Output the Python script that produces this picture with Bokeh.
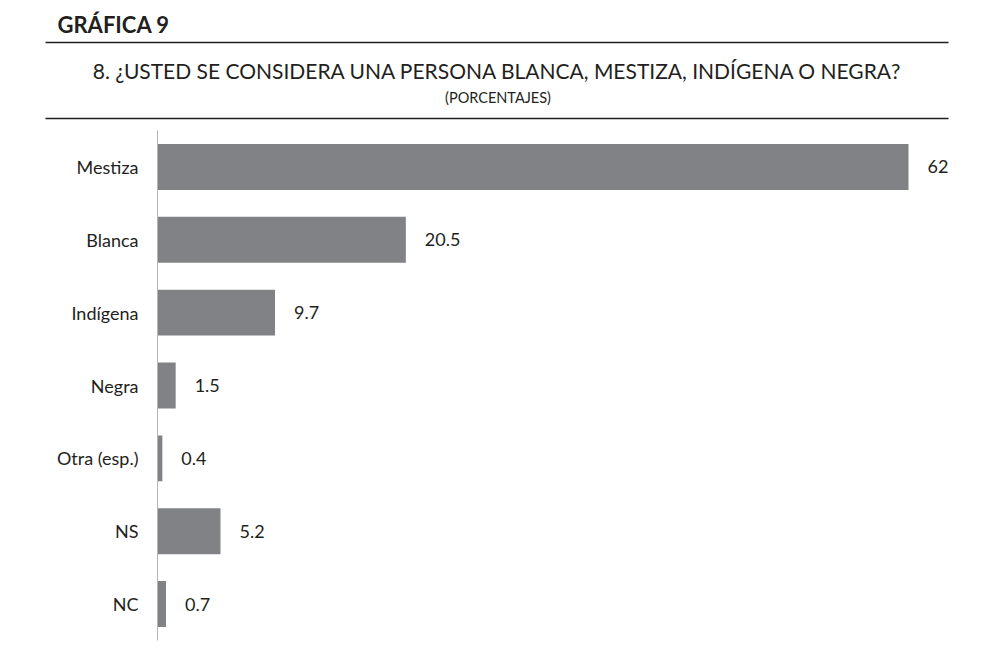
from bokeh.plotting import figure
from bokeh.models import Range1d, FactorRange, ColumnDataSource
from bokeh.layouts import column
from bokeh.core.properties import value
from bokeh.embed import file_html
from bokeh.resources import INLINE

# ---- data ----
categories = ["Mestiza", "Blanca", "Indígena", "Negra", "Otra (esp.)", "NS", "NC"]
percentages = [62, 20.5, 9.7, 1.5, 0.4, 5.2, 0.7]
value_labels = ["62", "20.5", "9.7", "1.5", "0.4", "5.2", "0.7"]

header_title = "GRÁFICA 9"
question = "8. ¿USTED SE CONSIDERA UNA PERSONA BLANCA, MESTIZA, INDÍGENA O NEGRA?"
units = "(PORCENTAJES)"

FONT = "Lato"
TXT = "#231f20"
BAR = "#818285"

W = 986
HH = 130

# ---- header ----
h = figure(width=W, height=HH, x_range=Range1d(0, W), y_range=Range1d(HH, 0),
           x_axis_location=None, y_axis_location=None, min_border=0,
           frame_align=False,
           toolbar_location=None, output_backend="svg")
h.outline_line_color = None
h.grid.visible = False
h.segment(x0=[45, 45], y0=[42, 118], x1=[948, 948], y1=[42, 118],
          line_color=TXT, line_width=1.3)
h.text(x=[57], y=[24], text=[header_title], text_font=value(FONT),
       text_font_size="22px", text_font_style="bold", text_color=TXT,
       text_baseline="middle", text_align="left")
h.text(x=[497.5], y=[70], text=[question], text_font=value(FONT),
       text_font_size="21px", text_color=TXT,
       text_baseline="middle", text_align="center")
h.text(x=[497.5], y=[96.5], text=[units], text_font=value(FONT),
       text_font_size="14.5px", text_color=TXT,
       text_baseline="middle", text_align="center")

# ---- chart ----
src = ColumnDataSource(dict(cat=categories, val=percentages, lab=value_labels))

p = figure(width=W, height=512,
           y_range=FactorRange(factors=list(reversed(categories))),
           x_range=Range1d(0, 65.3),
           x_axis_location=None,
           min_border_left=157, min_border_right=38,
           min_border_top=0, min_border_bottom=2,
           frame_align=False,
           toolbar_location=None, output_backend="svg")
p.outline_line_color = None
p.grid.visible = False

p.hbar(y="cat", left=0, right="val", height=0.63, source=src,
       fill_color=BAR, line_color=None)
p.text(x="val", y="cat", text="lab", source=src, x_offset=19,
       text_font=value(FONT), text_font_size="18px", text_color=TXT,
       text_baseline="middle", text_align="left")

ax = p.yaxis[0]
ax.axis_line_color = "#b5b5b5"
ax.axis_line_width = 1
ax.major_tick_line_color = None
ax.minor_tick_line_color = None
ax.major_label_standoff = 13
ax.major_label_text_font = FONT
ax.major_label_text_font_size = "18px"
ax.major_label_text_color = TXT

layout = column(h, p, spacing=0)

open("out.html", "w").write(file_html(layout, INLINE))
